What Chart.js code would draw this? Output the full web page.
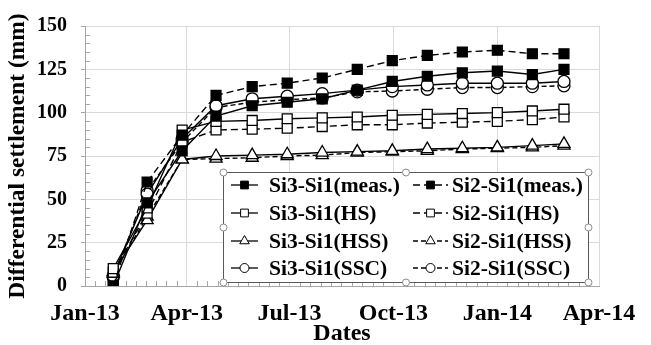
<!DOCTYPE html>
<html>
<head>
<meta charset="utf-8">
<script src="https://cdn.jsdelivr.net/npm/chart.js@4.4.1/dist/chart.umd.min.js"></script>
<style>
html, body { margin: 0; padding: 0; background: #fff; }
#wrap { width: 651px; height: 345px; }
</style>
</head>
<body>
<div id="wrap"><canvas id="grafico"></canvas></div>
<script>
// datas das leituras
const dates = ['2013-01-26', '2013-02-25', '2013-03-28', '2013-04-27', '2013-05-29', '2013-06-29', '2013-07-30',
    '2013-08-30', '2013-09-30', '2013-10-31', '2013-12-01', '2014-01-01', '2014-02-01', '2014-03-01']
const tickDates = ['2013-01-01', '2013-04-01', '2013-07-01', '2013-10-01', '2014-01-01', '2014-04-01']
const tickLabels = ['Jan-13', 'Apr-13', 'Jul-13', 'Oct-13', 'Jan-14', 'Apr-14']
const yTicks = [0, 25, 50, 75, 100, 125, 150]

// recalques diferenciais (mm)
const si3Meas = [0, 48, 78, 98, 104, 106, 108, 113, 118, 121, 123, 124, 122, 125]
const si2Meas = [0, 60, 87, 110, 115, 117, 120, 125, 130, 133, 135, 136, 134, 134]
const si3HS = [10, 45, 90, 95, 95.5, 96.5, 97, 97.5, 98.5, 99, 99.5, 100, 101, 102]
const si2HS = [8, 42, 83, 90, 90.5, 91, 92, 93, 93, 94, 94.5, 95, 96, 97.5]
const si3HSS = [8, 38, 73, 75, 75.5, 76, 77, 77.5, 78, 79, 79.5, 80, 81, 82]
const si2HSS = [7, 40, 73, 73.5, 74, 75, 75.5, 77, 77.5, 78, 79, 79.5, 80, 81]
const si3SSC = [6, 53, 85, 104, 108, 109.5, 111, 113, 115, 116, 117, 117, 117, 118]
const si2SSC = [5, 55, 83, 103, 106, 107.5, 108.5, 112, 112.5, 113.5, 114.5, 114.5, 115, 115.5]

const labels = ['Si3-Si1(meas.)', 'Si2-Si1(meas.)', 'Si3-Si1(HS)', 'Si2-Si1(HS)',
    'Si3-Si1(HSS)', 'Si2-Si1(HSS)', 'Si3-Si1(SSC)', 'Si2-Si1(SSC)']

const t0 = Date.UTC(2013, 0, 1)
function dia(s) {
    const p = s.split('-')
    return (Date.UTC(+p[0], p[1] - 1, +p[2]) - t0) / 86400000
}
const xDias = dates.map(dia)
const tickDias = tickDates.map(dia)

function serie(label, valores, estilo, cheio, tracejado) {
    return {
        label: label,
        data: valores.map((v, i) => ({ x: xDias[i], y: v })),
        borderColor: '#000',
        borderWidth: 1.4,
        borderDash: tracejado ? (estilo == 'rect' ? [7, 4] : [5, 3]) : [],
        pointStyle: estilo,
        pointRadius: estilo == 'rect' ? 7 : (estilo == 'triangle' ? 7 : 6),
        pointBackgroundColor: cheio ? '#000' : '#fff',
        pointBorderColor: '#000',
        pointBorderWidth: 1.3,
        tension: 0
    }
}

const familia = '"Liberation Serif", "Times New Roman", serif'
const corEixo = '#a6a6a6'

// ticks menores e legenda desenhada dentro do grafico
const extras = {
    id: 'extras',
    beforeDatasetsDraw(chart) {
        const ctx = chart.ctx
        const xs = chart.scales.x, ys = chart.scales.y
        ctx.save()
        ctx.strokeStyle = corEixo
        ctx.lineWidth = 1
        ctx.beginPath()
        for (let i = 0; i < tickDias.length - 1; i++) {
            for (let k = 1; k < 10; k++) {
                const px = Math.round(xs.getPixelForValue(tickDias[i] + (tickDias[i + 1] - tickDias[i]) * k / 10)) + 0.5
                ctx.moveTo(px, ys.bottom)
                ctx.lineTo(px, ys.bottom - 5)
            }
        }
        for (let v = 5; v < 150; v += 5) {
            if (v % 25 == 0) continue
            const py = Math.round(ys.getPixelForValue(v)) + 0.5
            ctx.moveTo(xs.left, py)
            ctx.lineTo(xs.left + 5, py)
        }
        ctx.stroke()
        ctx.restore()
    },
    afterDraw(chart) {
        const ctx = chart.ctx
        const box = { l: 223, t: 172, r: 588, b: 282 }
        ctx.save()
        ctx.fillStyle = '#fff'
        ctx.fillRect(box.l, box.t, box.r - box.l, box.b - box.t)
        ctx.strokeStyle = '#595959'
        ctx.lineWidth = 1
        ctx.strokeRect(box.l + 0.5, box.t + 0.5, box.r - box.l, box.b - box.t)

        const linhas = [185, 213, 241, 268]
        const colunas = [{ a: 231, b: 258, t: 269 }, { a: 413, b: 448, t: 452 }]
        ctx.font = 'bold 21.5px ' + familia
        ctx.textBaseline = 'middle'
        chart.data.datasets.forEach((ds, i) => {
            const c = colunas[i % 2], y = linhas[Math.floor(i / 2)]
            ctx.strokeStyle = '#000'
            ctx.lineWidth = 1.3
            ctx.setLineDash(ds.borderDash)
            ctx.beginPath()
            ctx.moveTo(c.a, y)
            ctx.lineTo(c.b, y)
            ctx.stroke()
            ctx.setLineDash([])
            ctx.fillStyle = ds.pointBackgroundColor
            ctx.lineWidth = 1
            Chart.helpers.drawPoint(ctx, { pointStyle: ds.pointStyle, radius: ds.pointRadius - 1.5, borderWidth: 1, rotation: 0 }, (c.a + c.b) / 2, y)
            ctx.fillStyle = '#000'
            ctx.fillText(ds.label, c.t, y + 1.5)
        })

        // alças de selecao (como no original)
        const mx = (box.l + box.r) / 2, my = (box.t + box.b) / 2
        const alcas = [[box.l, box.t], [mx, box.t], [box.r, box.t], [box.l, my], [box.r, my], [box.l, box.b], [mx, box.b], [box.r, box.b]]
        ctx.strokeStyle = '#8c8c8c'
        ctx.fillStyle = '#fff'
        alcas.forEach(p => {
            ctx.beginPath()
            ctx.arc(p[0] + 0.5, p[1] + 0.5, 3.5, 0, Math.PI * 2)
            ctx.fill()
            ctx.stroke()
        })
        ctx.restore()
    }
}

new Chart(document.getElementById('grafico'), {
    type: 'line',
    data: {
        datasets: [
            serie(labels[0], si3Meas, 'rect', true, false),
            serie(labels[1], si2Meas, 'rect', true, true),
            serie(labels[2], si3HS, 'rect', false, false),
            serie(labels[3], si2HS, 'rect', false, true),
            serie(labels[4], si3HSS, 'triangle', false, false),
            serie(labels[5], si2HSS, 'triangle', false, true),
            serie(labels[6], si3SSC, 'circle', false, false),
            serie(labels[7], si2SSC, 'circle', false, true)
        ]
    },
    plugins: [extras],
    options: {
        responsive: true,
        maintainAspectRatio: false,
        animation: false,
        layout: { padding: { top: 17, right: 52, left: 0, bottom: 0 } },
        plugins: {
            legend: { display: false },
            tooltip: { enabled: false }
        },
        scales: {
            x: {
                type: 'linear',
                min: tickDias[0],
                max: tickDias[tickDias.length - 1],
                afterBuildTicks: (eixo) => { eixo.ticks = tickDias.map(v => ({ value: v })) },
                afterFit: (eixo) => { eixo.height = 59 },
                ticks: {
                    autoSkip: false,
                    maxRotation: 0,
                    color: '#000',
                    padding: 13,
                    font: { family: familia, size: 24, weight: 'bold' },
                    callback: (v) => tickLabels[tickDias.indexOf(v)]
                },
                grid: { color: '#d9d9d9', tickLength: 0, drawTicks: false },
                border: { color: corEixo },
                title: {
                    display: true,
                    text: 'Dates',
                    color: '#000',
                    padding: { top: 0, bottom: -3 },
                    font: { family: familia, size: 24, weight: 'bold' }
                }
            },
            y: {
                min: 0,
                max: 150,
                afterBuildTicks: (eixo) => { eixo.ticks = yTicks.map(v => ({ value: v })) },
                afterFit: (eixo) => { eixo.width = 85 },
                ticks: {
                    color: '#000',
                    padding: 14,
                    font: { family: familia, size: 20, weight: 'bold' }
                },
                grid: { color: '#d9d9d9', tickLength: 4, tickColor: corEixo },
                border: { color: corEixo },
                title: {
                    display: true,
                    text: 'Differential settlement (mm)',
                    color: '#000',
                    padding: { top: 4, bottom: 0 },
                    font: { family: familia, size: 23.5, weight: 'bold' }
                }
            }
        }
    }
})
</script>
</body>
</html>
